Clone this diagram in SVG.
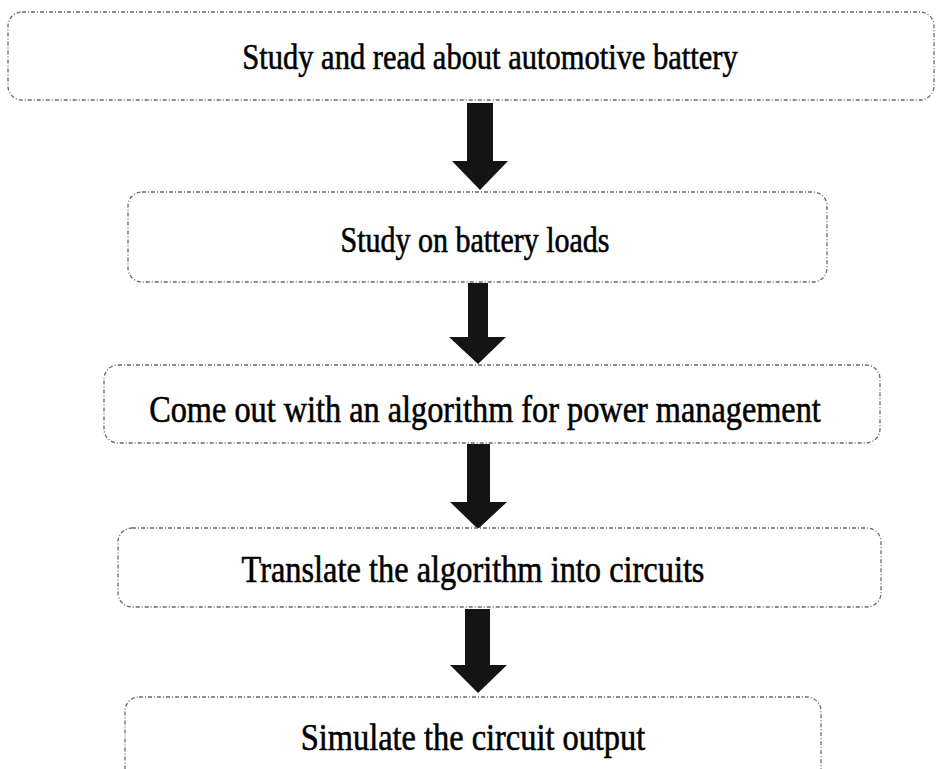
<svg xmlns="http://www.w3.org/2000/svg" width="942" height="769" viewBox="0 0 942 769">
<style>
.box{fill:#fff;stroke:#6a6a6a;stroke-width:1.3;stroke-dasharray:4 2 1 2}
.lbl{font-family:"Liberation Serif","Times New Roman",serif;fill:#000;stroke:#000;stroke-width:0.5;text-anchor:middle}
.arr{fill:#141414}
</style>
<rect width="942" height="769" fill="#fff"/>
<g id="connectors">
<path class="arr" d="M467,103 L493,103 L493,161 L508,161 L480,190 L452,161 L467,161 Z"/>
<path class="arr" d="M468,283 L488,283 L488,337 L506,337 L478,364 L449,337 L468,337 Z"/>
<path class="arr" d="M467,444 L490,444 L490,502 L507,502 L478,529 L450,502 L467,502 Z"/>
<path class="arr" d="M465,609 L490,609 L490,665 L507,665 L478,693 L450,665 L465,665 Z"/>
</g>
<g id="n1"><rect class="box" x="8" y="12" width="926" height="88" rx="14"/><text class="lbl" font-size="30.5" transform="translate(490,69) scale(1,1.17)">Study and read about automotive battery</text></g>
<g id="n2"><rect class="box" x="128" y="192" width="699" height="90" rx="14"/><text class="lbl" font-size="30" transform="translate(475,252) scale(1,1.17)">Study on battery loads</text></g>
<g id="n3"><rect class="box" x="104" y="365" width="776" height="78" rx="14"/><text class="lbl" font-size="32.3" transform="translate(485,422) scale(1,1.17)">Come out with an algorithm for power management</text></g>
<g id="n4"><rect class="box" x="118" y="528" width="763" height="79" rx="14"/><text class="lbl" font-size="32.4" transform="translate(473,582) scale(1,1.17)">Translate the algorithm into circuits</text></g>
<g id="n5"><rect class="box" x="125" y="697" width="696" height="90" rx="14"/><text class="lbl" font-size="32.4" transform="translate(473,750) scale(1,1.17)">Simulate the circuit output</text></g>
</svg>
